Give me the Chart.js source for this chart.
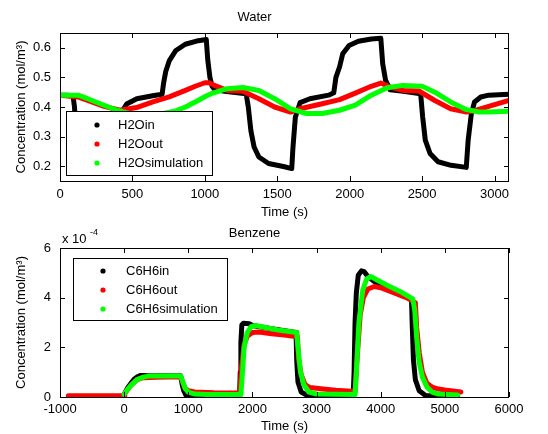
<!DOCTYPE html>
<html>
<head>
<meta charset="utf-8">
<script src="https://cdn.jsdelivr.net/npm/chart.js@4.4.0/dist/chart.umd.min.js"></script>
<style>
  html, body { margin: 0; padding: 0; background: #fff; }
  #wrap { position: relative; width: 548px; height: 434px; }
  #water { position: absolute; left: 0; top: 0; }
  #benzene { position: absolute; left: 0; top: 220px; }
</style>
</head>
<body>
<div id="wrap">
  <canvas id="water" width="548" height="220"></canvas>
  <canvas id="benzene" width="548" height="214"></canvas>
</div>
<script>
// ---- Water (mol/m3) vs time (s) ----
const h2oInTime = [0, 50, 90, 100, 110, 125, 150, 200, 250, 300, 350, 400, 410, 420, 435, 460, 530, 640, 705, 715, 730, 755, 800, 865, 955, 1010, 1020, 1035, 1050, 1070, 1150, 1285, 1300, 1318, 1340, 1373, 1440, 1550, 1600, 1608, 1625, 1658, 1725, 1855, 1890, 1905, 1930, 1952, 1996, 2060, 2150, 2215, 2228, 2248, 2280, 2370, 2490, 2504, 2522, 2555, 2610, 2700, 2805, 2818, 2840, 2862, 2905, 2960, 3100];
const h2oIn = [0.440, 0.440, 0.438, 0.40, 0.32, 0.27, 0.24, 0.215, 0.205, 0.200, 0.196, 0.192, 0.25, 0.34, 0.39, 0.41, 0.428, 0.438, 0.443, 0.48, 0.52, 0.557, 0.591, 0.612, 0.624, 0.628, 0.56, 0.50, 0.47, 0.458, 0.452, 0.445, 0.40, 0.32, 0.265, 0.231, 0.209, 0.198, 0.192, 0.26, 0.366, 0.415, 0.428, 0.440, 0.448, 0.50, 0.535, 0.58, 0.608, 0.622, 0.630, 0.632, 0.546, 0.49, 0.458, 0.453, 0.445, 0.366, 0.288, 0.243, 0.215, 0.203, 0.196, 0.288, 0.377, 0.417, 0.434, 0.440, 0.443];

const h2oOutTime = [0, 124, 191, 304, 416, 529, 641, 754, 866, 934, 1000, 1030, 1066, 1153, 1263, 1373, 1482, 1592, 1658, 1811, 1930, 2039, 2149, 2215, 2281, 2368, 2478, 2588, 2697, 2807, 2873, 2960, 3100];
const h2oOut = [0.440, 0.434, 0.422, 0.402, 0.389, 0.398, 0.417, 0.434, 0.456, 0.470, 0.482, 0.482, 0.473, 0.456, 0.453, 0.428, 0.400, 0.383, 0.394, 0.411, 0.425, 0.447, 0.470, 0.481, 0.467, 0.456, 0.454, 0.422, 0.394, 0.383, 0.389, 0.402, 0.422];

const h2oSimTime = [0, 124, 191, 304, 394, 480, 580, 680, 799, 866, 934, 1013, 1044, 1153, 1263, 1373, 1482, 1592, 1702, 1811, 1930, 2039, 2149, 2259, 2368, 2500, 2588, 2697, 2807, 2895, 2960, 3100];
const h2oSim = [0.440, 0.440, 0.428, 0.406, 0.389, 0.378, 0.372, 0.375, 0.387, 0.400, 0.417, 0.438, 0.445, 0.462, 0.466, 0.456, 0.428, 0.394, 0.378, 0.378, 0.389, 0.406, 0.440, 0.465, 0.473, 0.470, 0.450, 0.417, 0.391, 0.383, 0.383, 0.386];

const waterXTicks = [0, 500, 1000, 1500, 2000, 2500, 3000];
const waterYTicks = [0.2, 0.3, 0.4, 0.5, 0.6];

// ---- Benzene (x 1e-4 mol/m3) vs time (s) ----
const c6h6InTime = [0, 50, 104, 150, 208, 260, 400, 880, 905, 930, 961, 1040, 1800, 1810, 1820, 1835, 1860, 1950, 2000, 2300, 2680, 2690, 2710, 2760, 2850, 3000, 3570, 3585, 3600, 3620, 3650, 3700, 3740, 3800, 3900, 4100, 4300, 4480, 4490, 4510, 4540, 4600, 4700, 5000, 5200];
const c6h6In = [0.10, 0.35, 0.54, 0.70, 0.81, 0.87, 0.86, 0.86, 0.50, 0.25, 0.08, 0.04, 0.04, 1.0, 2.2, 2.9, 2.97, 2.95, 2.88, 2.75, 2.6, 1.5, 0.6, 0.2, 0.07, 0.04, 0.04, 1.0, 3.0, 4.2, 4.9, 5.08, 5.05, 4.85, 4.65, 4.4, 4.15, 3.95, 3.0, 1.5, 0.7, 0.25, 0.06, 0.03, 0.03];

const c6h6OutTime = [-870, -500, 0, 10, 100, 200, 300, 500, 880, 910, 950, 1000, 1100, 1400, 1800, 1830, 1870, 1920, 2000, 2100, 2300, 2500, 2700, 2720, 2760, 2820, 2900, 3100, 3300, 3600, 3630, 3680, 3730, 3800, 3900, 4000, 4200, 4400, 4540, 4560, 4600, 4650, 4720, 4800, 4900, 5000, 5250];
const c6h6Out = [0.05, 0.05, 0.05, 0.15, 0.45, 0.70, 0.78, 0.80, 0.82, 0.60, 0.35, 0.25, 0.20, 0.17, 0.16, 1.2, 2.1, 2.45, 2.6, 2.62, 2.55, 2.5, 2.42, 1.5, 0.9, 0.5, 0.38, 0.32, 0.27, 0.22, 1.5, 3.3, 4.0, 4.35, 4.45, 4.4, 4.2, 4.0, 3.8, 2.8, 1.8, 1.0, 0.55, 0.4, 0.32, 0.28, 0.2];

const c6h6SimTime = [0, 50, 100, 200, 300, 400, 880, 910, 950, 1000, 1100, 1300, 1820, 1840, 1870, 1920, 1980, 2050, 2200, 2400, 2690, 2710, 2750, 2800, 2880, 3000, 3600, 3620, 3660, 3720, 3780, 3850, 3950, 4100, 4300, 4500, 4530, 4560, 4600, 4650, 4720, 4800, 4900, 5050, 5200];
const c6h6Sim = [0.10, 0.30, 0.45, 0.70, 0.80, 0.85, 0.86, 0.65, 0.35, 0.20, 0.12, 0.10, 0.10, 0.8, 2.0, 2.6, 2.83, 2.88, 2.8, 2.7, 2.6, 2.0, 1.0, 0.5, 0.2, 0.12, 0.10, 1.0, 3.0, 4.3, 4.75, 4.85, 4.7, 4.5, 4.25, 3.95, 3.5, 2.4, 1.4, 0.8, 0.4, 0.2, 0.12, 0.10, 0.08];

const benzXTicks = [-1000, 0, 1000, 2000, 3000, 4000, 5000, 6000];
const benzYTicks = [0, 2, 4, 6];

const FONT = "'Liberation Sans', Arial, sans-serif";
const toPoints = (xs, ys) => xs.map((x, i) => ({ x: x, y: ys[i] }));

function series(label, xs, ys, color, order) {
  return {
    label: label,
    data: toPoints(xs, ys),
    borderColor: color,
    backgroundColor: color,
    borderWidth: 5,
    pointRadius: 0,
    tension: 0,
    borderJoinStyle: 'round',
    borderCapStyle: 'round',
    fill: false,
    order: order
  };
}

// inward ticks on all four sides + box, like matlab axes
const matlabFrame = {
  id: 'matlabFrame',
  afterDatasetsDraw(chart) {
    const { ctx, chartArea: a } = chart;
    const x = chart.scales.x, y = chart.scales.y;
    ctx.save();
    ctx.strokeStyle = '#000';
    ctx.lineWidth = 1;
    ctx.beginPath();
    x.ticks.forEach(t => {
      const px = Math.round(x.getPixelForValue(t.value)) + 0.5;
      ctx.moveTo(px, a.bottom); ctx.lineTo(px, a.bottom - 5);
      ctx.moveTo(px, a.top); ctx.lineTo(px, a.top + 5);
    });
    y.ticks.forEach(t => {
      const py = Math.round(y.getPixelForValue(t.value)) + 0.5;
      ctx.moveTo(a.left, py); ctx.lineTo(a.left + 5, py);
      ctx.moveTo(a.right, py); ctx.lineTo(a.right - 5, py);
    });
    ctx.stroke();
    ctx.strokeRect(Math.round(a.left) + 0.5, Math.round(a.top) + 0.5, Math.round(a.width) - 1, Math.round(a.height));
    ctx.restore();
  }
};

// boxed legend inside the axes
const boxLegend = {
  id: 'boxLegend',
  afterDraw(chart, args, o) {
    const ctx = chart.ctx;
    ctx.save();
    ctx.fillStyle = '#fff';
    ctx.fillRect(o.left, o.top, o.width, o.height);
    ctx.strokeStyle = '#000';
    ctx.lineWidth = 1;
    ctx.strokeRect(o.left + 0.5, o.top + 0.5, o.width, o.height);
    ctx.font = '13px ' + FONT;
    ctx.textBaseline = 'middle';
    ctx.textAlign = 'left';
    chart.data.datasets.forEach((ds, i) => {
      const yy = o.firstRow + i * o.rowGap;
      ctx.fillStyle = ds.borderColor;
      ctx.beginPath();
      ctx.arc(o.markerX, yy, 2.6, 0, Math.PI * 2);
      ctx.fill();
      ctx.fillStyle = '#000';
      ctx.fillText(ds.label, o.textX, yy + 0.5);
    });
    if (o.exponent) {
      ctx.font = '13px ' + FONT;
      ctx.textBaseline = 'alphabetic';
      ctx.fillText('x 10', 62, 23);
      ctx.font = '9px ' + FONT;
      ctx.fillText('-4', 90, 15);
    }
    ctx.restore();
  }
};

function makeChart(id, datasets, cfg) {
  return new Chart(document.getElementById(id), {
    type: 'line',
    data: { datasets: datasets },
    options: {
      responsive: false,
      animation: false,
      devicePixelRatio: 1,
      layout: { padding: { left: 0, right: 39, top: 0, bottom: 0 } },
      plugins: {
        legend: { display: false },
        tooltip: { enabled: false },
        title: {
          display: true,
          text: cfg.title,
          color: '#000',
          font: { family: FONT, size: 13, weight: 'normal' },
          padding: cfg.titlePad
        },
        boxLegend: cfg.legend
      },
      scales: {
        x: {
          type: 'linear',
          min: cfg.xMin,
          max: cfg.xMax,
          grid: { display: false, drawTicks: false },
          border: { display: false },
          afterBuildTicks: s => { s.ticks = cfg.xTicks.map(v => ({ value: v })); },
          afterFit: s => { s.height = cfg.xHeight; s.paddingLeft = 0; s.paddingRight = 0; },
          ticks: {
            color: '#000', padding: cfg.xTickPad, maxRotation: 0, autoSkip: false,
            font: { family: FONT, size: 13 },
            callback: v => String(v)
          },
          title: {
            display: true, text: 'Time (s)', color: '#000',
            font: { family: FONT, size: 13 },
            padding: cfg.xTitlePad
          }
        },
        y: {
          type: 'linear',
          min: cfg.yMin,
          max: cfg.yMax,
          grid: { display: false, drawTicks: false },
          border: { display: false },
          afterBuildTicks: s => { s.ticks = cfg.yTicks.map(v => ({ value: v })); },
          afterFit: s => { s.width = 60; s.paddingTop = 0; s.paddingBottom = 0; },
          ticks: {
            color: '#000', padding: 9, autoSkip: false,
            font: { family: FONT, size: 13 },
            callback: v => String(v)
          },
          title: {
            display: true, text: 'Concentration (mol/m³)', color: '#000',
            font: { family: FONT, size: 13 },
            padding: { top: 14, bottom: 0 }
          }
        }
      }
    },
    plugins: [matlabFrame, boxLegend]
  });
}

makeChart('water', [
  series('H2Oin', h2oInTime, h2oIn, '#000000', 3),
  series('H2Oout', h2oOutTime, h2oOut, '#ff0000', 2),
  series('H2Osimulation', h2oSimTime, h2oSim, '#00ff00', 1)
], {
  title: 'Water', titlePad: { top: 10, bottom: 7.4 },
  xMin: 0, xMax: 3100, yMin: 0.15, yMax: 0.65,
  xTicks: waterXTicks, yTicks: waterYTicks,
  xHeight: 39, xTickPad: 6, xTitlePad: { top: 0, bottom: 0 },
  legend: { left: 66, top: 111, width: 146, height: 64, firstRow: 125, rowGap: 19, markerX: 97, textX: 118 }
});

makeChart('benzene', [
  series('C6H6in', c6h6InTime, c6h6In, '#000000', 3),
  series('C6H6out', c6h6OutTime, c6h6Out, '#ff0000', 2),
  series('C6H6simulation', c6h6SimTime, c6h6Sim, '#00ff00', 1)
], {
  title: 'Benzene', titlePad: { top: 6, bottom: 6.4 },
  xMin: -1000, xMax: 6000, yMin: 0, yMax: 6,
  xTicks: benzXTicks, yTicks: benzYTicks,
  xHeight: 37, xTickPad: 5, xTitlePad: { top: 2, bottom: 0 },
  legend: { left: 73, top: 38, width: 154, height: 62, firstRow: 51, rowGap: 19, markerX: 103, textX: 126, exponent: true }
});
</script>
</body>
</html>
